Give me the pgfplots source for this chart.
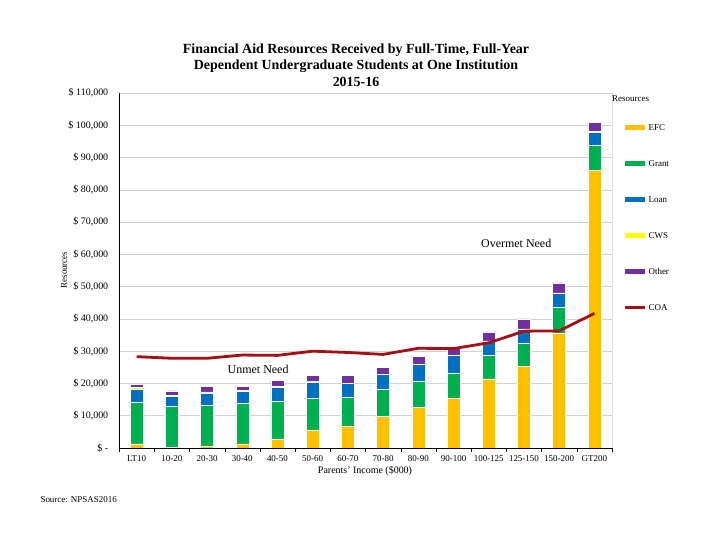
\documentclass[border=0pt]{standalone}
\usepackage{pgfplots}
\pgfplotsset{compat=1.18}
\usepackage{pgfplotstable}
\usepackage{fontspec}
\setmainfont{Liberation Serif}

\definecolor{efc}{HTML}{FFC000}
\definecolor{grant}{HTML}{00B050}
\definecolor{loan}{HTML}{0070C0}
\definecolor{cws}{HTML}{FFFF00}
\definecolor{other}{HTML}{7030A0}
\definecolor{coa}{HTML}{A50F15}

% resources by parents' income group, stacked from the bottom
\pgfplotstableread{
x  EFC   Grant Loan CWS Other COA
0  1300  13000 3900 700 700   28300
1  200   12600 3300 300 1300  27800
2  600   12500 4000 300 1600  27800
3  1300  12500 3700 400 1200  28800
4  2800  11700 4400 100 1900  28700
5  5500  9900  5100 100 2000  30000
6  6700  9000  4300 100 2300  29600
7  9800  8400  4500 100 2100  29000
8  12600 8100  5200 100 2500  30900
9  15400 7900  5300 100 2200  30800
10 21400 7200  4500 100 2800  32600
11 25300 7100  4400 100 3100  36200
12 35500 8000  4500 100 3100  36300
13 86000 7800  4000 200 2800  41700
}\aid

\pgfplotsset{
  common/.style={
    width=493bp, height=355bp, scale only axis,
    at={(119bp,92bp)}, anchor=south west,
    xmin=-0.5, xmax=13.5, ymin=0, ymax=110000,
  },
}

\begin{document}
\begin{tikzpicture}
\path[use as bounding box] (0,0) rectangle (720bp,540bp);

\begin{axis}[common,
  ybar stacked, bar width=13bp,
  axis x line*=bottom, axis y line*=left,
  axis line style={black,-},
  ymajorgrids, grid style={black!18, line width=0.6bp},
  scaled y ticks=false,
  ytick={0,10000,...,110000},
  yticklabels={{\$ -},{\$ 10,000},{\$ 20,000},{\$ 30,000},{\$ 40,000},{\$ 50,000},
    {\$ 60,000},{\$ 70,000},{\$ 80,000},{\$ 90,000},{\$ 100,000},{\$ 110,000}},
  ytick style={draw=none},
  yticklabel style={font=\fontsize{10}{12}\selectfont, xshift=-3bp},
  xtick={0,...,13},
  xticklabels={LT10,10-20,20-30,30-40,40-50,50-60,60-70,70-80,80-90,90-100,
    100-125,125-150,150-200,GT200},
  xticklabel style={font=\fontsize{9}{10}\selectfont},
  major x tick style={draw=none},
  minor xtick={-0.5,0.5,...,13.5},
  minor x tick style={black},
  minor tick length=4bp, tick align=outside,
  legend style={draw=none, fill=none, at={(1.02,0.92)}, anchor=north west,
    font=\fontsize{9}{10}\selectfont, row sep=24bp, inner sep=0pt,
    nodes={inner sep=1.5bp, text height=7bp, text depth=2bp}},
  legend cell align=left,
]
\addplot[fill=efc, draw=white, line width=0.5bp, forget plot] table[x=x, y=EFC]{\aid};
\addplot[fill=grant, draw=white, line width=0.5bp, forget plot] table[x=x, y=Grant]{\aid};
\addplot[fill=loan, draw=white, line width=0.5bp, forget plot] table[x=x, y=Loan]{\aid};
\addplot[fill=cws, draw=white, line width=0.5bp, forget plot] table[x=x, y=CWS]{\aid};
\addplot[fill=other, draw=white, line width=0.5bp, forget plot] table[x=x, y=Other]{\aid};

\addlegendimage{legend image code/.code={\draw[efc, line width=5bp] (0bp,0bp) -- (20bp,0bp);}}
\addlegendentry{EFC}
\addlegendimage{legend image code/.code={\draw[grant, line width=5bp] (0bp,0bp) -- (20bp,0bp);}}
\addlegendentry{Grant}
\addlegendimage{legend image code/.code={\draw[loan, line width=5bp] (0bp,0bp) -- (20bp,0bp);}}
\addlegendentry{Loan}
\addlegendimage{legend image code/.code={\draw[cws, line width=5bp] (0bp,0bp) -- (20bp,0bp);}}
\addlegendentry{CWS}
\addlegendimage{legend image code/.code={\draw[other, line width=5bp] (0bp,0bp) -- (20bp,0bp);}}
\addlegendentry{Other}
\addlegendimage{legend image code/.code={\draw[coa, line width=3bp] (0bp,0bp) -- (20bp,0bp);}}
\addlegendentry{COA}

\draw[black] (rel axis cs:1,0) -- (rel axis cs:1,1);
\node[font=\fontsize{12}{14}\selectfont] at (axis cs:10.78,63500) {Overmet Need};
\node[font=\fontsize{12}{14}\selectfont] at (axis cs:3.45,24500) {Unmet Need};
\end{axis}

\begin{axis}[common, hide axis]
\addplot[coa, line width=2.8bp, mark=none] table[x=x, y=COA]{\aid};
\end{axis}

\node[font=\bfseries\fontsize{14}{16.5}\selectfont, align=center] at (356bp,475bp)
  {Financial Aid Resources Received by Full-Time, Full-Year\\
   Dependent Undergraduate Students at One Institution\\
   2015-16};
\node[font=\fontsize{9}{10}\selectfont, rotate=90] at (64bp,270bp) {Resources};
\node[font=\fontsize{10}{12}\selectfont] at (365bp,69bp) {Parents' Income (\$000)};
\node[font=\fontsize{9}{10}\selectfont, anchor=west] at (37bp,40bp) {Source: NPSAS2016};
\node[font=\fontsize{9}{10}\selectfont, anchor=west, inner sep=0pt] at (612bp,441bp) {Resources};
\end{tikzpicture}
\end{document}
